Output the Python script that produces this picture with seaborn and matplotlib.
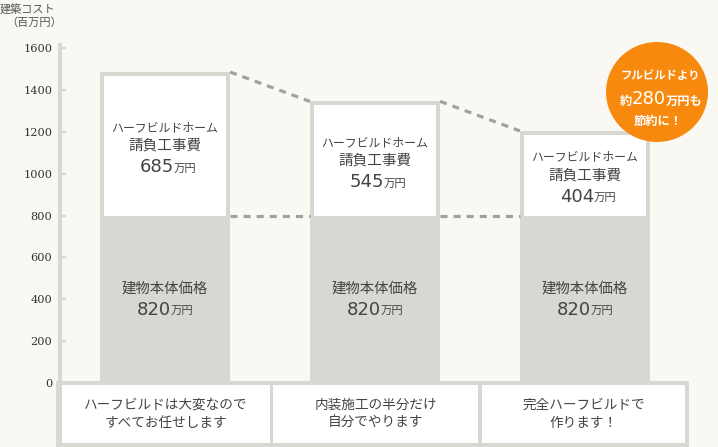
import numpy as np
import pandas as pd
import matplotlib
matplotlib.use("Agg")
import matplotlib.pyplot as plt
from matplotlib.patches import Rectangle, Ellipse
import seaborn as sns

# data
plans = ["ハーフビルドは大変なので\nすべてお任せします",
         "内装施工の半分だけ\n自分でやります",
         "完全ハーフビルドで\n作ります！"]
base_height = [800, 800, 800]          # drawn height of the body part
base_label = ["820", "820", "820"]     # printed value (万円)
work_cost = [685, 545, 404]            # ハーフビルドホーム請負工事費
work_label = ["685", "545", "404"]
yticks = [0, 200, 400, 600, 800, 1000, 1200, 1400, 1600]

bg = "#f9f8f3"
gray = "#d9d7d1"
dash_c = "#a3a19c"
txt = "#444444"
orange = "#f7890f"
num_font = ["DejaVu Sans"]

sns.set_theme(style="white")
plt.rcParams["font.family"] = ["Noto Sans CJK JP", "DejaVu Sans"]

df = pd.DataFrame({"plan": plans, "base": base_height, "work": work_cost})
df["total"] = df["base"] + df["work"]

W, H = 718, 447
fig = plt.figure(figsize=(W / 100, H / 100), dpi=100, facecolor=bg)
ax = fig.add_axes([60 / W, 64 / H, 630 / W, 335 / H])
ax.set_facecolor(bg)

bar_w = 0.62
sns.barplot(data=df, x="plan", y="total", color=gray, saturation=1,
            width=bar_w, linewidth=0, ax=ax)

ax.set_xlim(-0.5, 2.5)
ax.set_ylim(0, 1600)


def px2x(p):
    return -0.5 + (p - 60) / 210.0


def px2y(p):
    return (383 - p) * 1600 / 335.0


# white upper part inside the gray frame
ins_x = 4 / 210.0
ins_y = 4 * 1600 / 335.0
x = np.arange(len(df))
ax.bar(x, df["work"] - ins_y, bottom=df["base"], width=bar_w - 2 * ins_x,
       color="white", linewidth=0, zorder=3)

# dashed connectors
half = bar_w / 2
for i in range(len(df) - 1):
    ax.plot([i + half, i + 1 - half], [df["total"][i], df["total"][i + 1]],
            color=dash_c, lw=2.3, ls=(0, (2.2, 1.9)), zorder=4,
            dash_capstyle="butt")
    ax.plot([i + half, i + 1 - half], [df["base"][i], df["base"][i + 1]],
            color=dash_c, lw=2.3, ls=(0, (2.2, 1.9)), zorder=4,
            dash_capstyle="butt")

# labels in the bars
for i, r in df.iterrows():
    yc = r["base"] + r["work"] / 2
    ax.annotate("ハーフビルドホーム", (i, yc), xytext=(0, 11.5), textcoords="offset points",
                ha="center", va="center", fontsize=8.6, color=txt, zorder=5)
    ax.annotate("請負工事費", (i, yc), xytext=(0, -1.5), textcoords="offset points",
                ha="center", va="center", fontsize=10.5, color=txt, zorder=5)
    ax.annotate(work_label[i], (i, yc), xytext=(6.5, -17), textcoords="offset points",
                ha="right", va="center", fontsize=13, color=txt, zorder=5,
                family=num_font)
    ax.annotate("万円", (i, yc), xytext=(6.5, -18), textcoords="offset points",
                ha="left", va="center", fontsize=8.2, color=txt, zorder=5)

    yb = r["base"] / 2
    ax.annotate("建物本体価格", (i, yb), xytext=(0, 7.5), textcoords="offset points",
                ha="center", va="center", fontsize=10.4, color=txt, zorder=5)
    ax.annotate(base_label[i], (i, yb), xytext=(4, -7.5), textcoords="offset points",
                ha="right", va="center", fontsize=13, color=txt, zorder=5,
                family=num_font)
    ax.annotate("万円", (i, yb), xytext=(4, -8.5), textcoords="offset points",
                ha="left", va="center", fontsize=8.2, color=txt, zorder=5)

# bottom frame with plan boxes
ax.add_patch(Rectangle((px2x(56), px2y(447)), px2x(689) - px2x(56),
                       px2y(381) - px2y(447), facecolor=gray, lw=0,
                       clip_on=False, zorder=2))
boxes = [(62, 270), (273, 478), (482, 685)]
for (a, b), label in zip(boxes, plans):
    ax.add_patch(Rectangle((px2x(a), px2y(443)), px2x(b) - px2x(a),
                           px2y(385) - px2y(443), facecolor="white", lw=0,
                           clip_on=False, zorder=3))
    ax.text((px2x(a) + px2x(b)) / 2, px2y(414), label, ha="center", va="center",
            fontsize=9.8, color=txt, linespacing=1.35, zorder=4)

# axis styling
for s in ["top", "right", "bottom"]:
    ax.spines[s].set_visible(False)
ax.spines["left"].set_color(gray)
ax.spines["left"].set_linewidth(3.0)
ax.spines["left"].set_bounds(0, 1615)
ax.set_yticks(yticks)
ax.set_xticks([])
ax.set_xlabel("")
ax.set_ylabel("")
ax.tick_params(axis="y", direction="in", length=4, width=1.6, color=gray,
               labelsize=8.2, labelcolor="#333333", pad=5.5, left=True)
for lbl in ax.get_yticklabels():
    lbl.set_fontfamily("DejaVu Serif")

fig.text(0 / W, 1 - 9 / H, "建築コスト", ha="left", va="center", fontsize=8, color="#555555")
fig.text(6 / W, 1 - 23 / H, "（百万円）", ha="left", va="center", fontsize=8, color="#555555")

# orange badge
fig.add_artist(Ellipse((657 / W, 1 - 92 / H), 102 / W, 100 / H,
                       transform=fig.transFigure, facecolor=orange, lw=0))
fig.text(660 / W, 1 - 76 / H, "フルビルドより", ha="center", va="center",
         fontsize=8.2, color="white", fontweight="bold")
fig.text(632 / W, 1 - 101 / H, "約", ha="right", va="center",
         fontsize=8.8, color="white", fontweight="bold")
fig.text(649 / W, 1 - 99 / H, "280", ha="center", va="center",
         fontsize=13, color="white", family=num_font)
fig.text(666 / W, 1 - 101 / H, "万円も", ha="left", va="center",
         fontsize=8.8, color="white", fontweight="bold")
fig.text(658 / W, 1 - 121 / H, "節約に！", ha="center", va="center",
         fontsize=8.8, color="white", fontweight="bold")

fig.savefig("out.png", dpi=100, facecolor=bg)
